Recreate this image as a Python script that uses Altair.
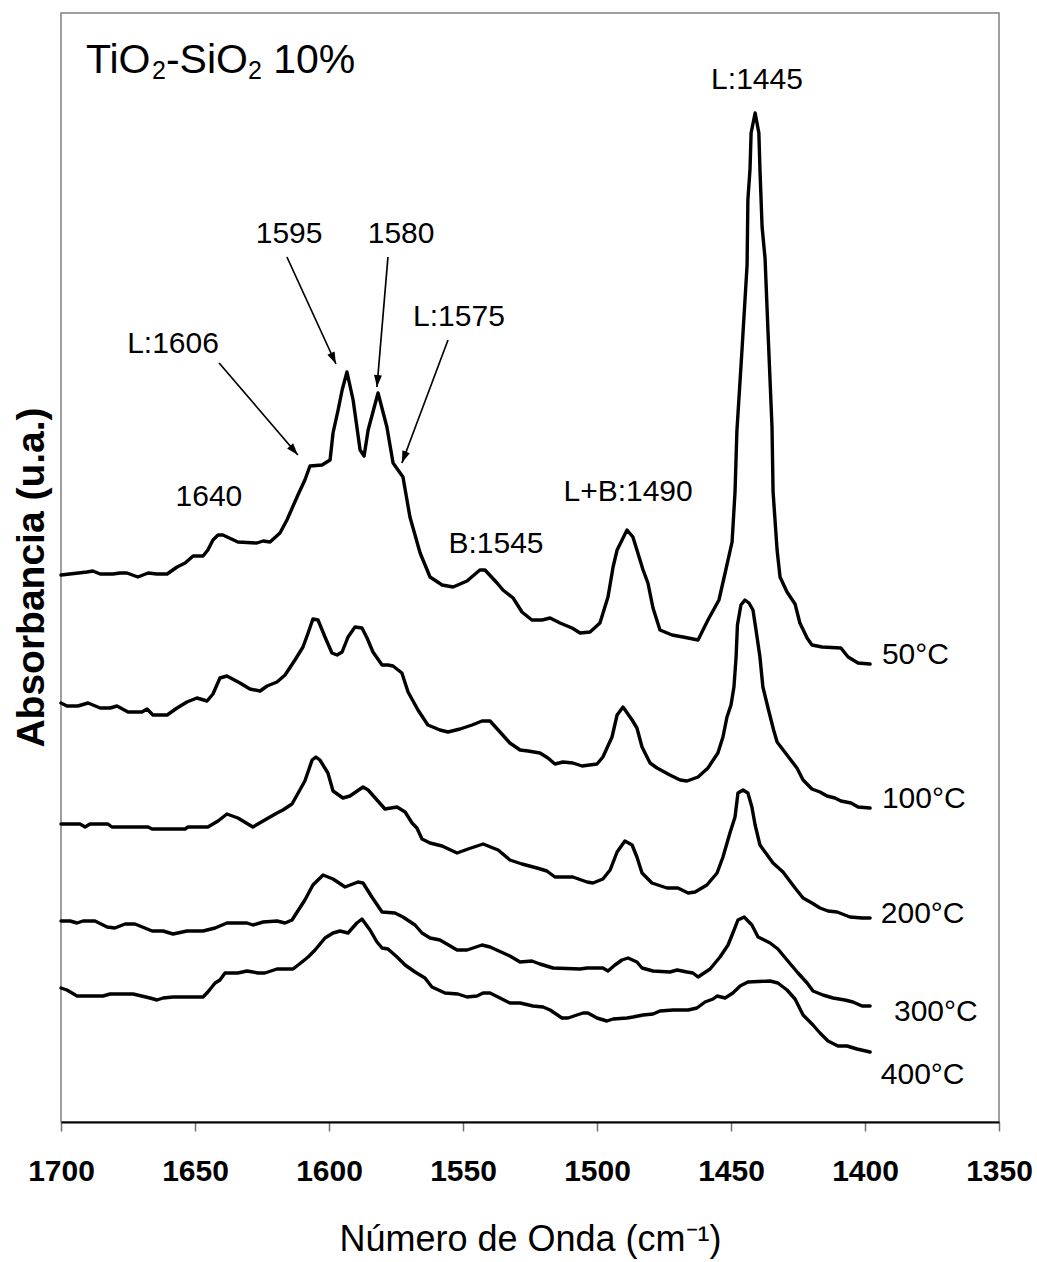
import math
import altair as alt
import pandas as pd

# FTIR spectra of adsorbed pyridine on TiO2-SiO2 10 %, (wavenumber cm-1, absorbance u.a.)
spec_50 = [
    (1700, .547), (1690.3, .550), (1688.1, .551), (1685.4, .548), (1680.6, .548), (1678, .549),
    (1675.4, .549), (1671.3, .545), (1667.5, .549), (1664.2, .548), (1660.4, .548), (1656.7, .555),
    (1653.7, .559), (1650.7, .566), (1647, .566), (1645.2, .572), (1643.3, .582), (1641.4, .587),
    (1639.6, .587), (1634, .580), (1626.9, .579), (1624.6, .581), (1622, .580), (1618.3, .589),
    (1615.7, .602), (1611.6, .627), (1609, .642), (1607.1, .656), (1602.6, .657), (1599.6, .662),
    (1598.5, .689), (1596.6, .712), (1595.1, .732), (1593.3, .750), (1591, .722), (1588.4, .672),
    (1586.9, .666), (1585.4, .692), (1581.7, .729), (1578.4, .695), (1576.1, .659), (1572.4, .645),
    (1569.8, .605), (1566, .569), (1562.3, .545), (1557.8, .537), (1553.7, .535), (1548.5, .541),
    (1543.7, .552), (1541.8, .552), (1537.3, .539), (1535.1, .532), (1531.3, .524), (1528, .510),
    (1524.3, .502), (1520.5, .502), (1517.5, .504), (1513.8, .499), (1509.3, .494), (1506.3, .489),
    (1502.6, .490), (1498.9, .499), (1495.9, .525), (1494, .555), (1492.5, .572), (1488.8, .592),
    (1486.6, .585), (1482.8, .552), (1481, .539), (1479.1, .514), (1476.5, .492), (1472, .487),
    (1467.9, .485), (1462.3, .482), (1458.6, .502), (1454.5, .522), (1452.2, .549), (1449.6, .580),
    (1448.5, .630), (1447.8, .691), (1445.9, .772), (1444, .857), (1443.7, .922), (1442.9, .953),
    (1442.5, .989), (1441, 1.009), (1439.6, .989), (1439.2, .953), (1438.4, .895), (1437.3, .864),
    (1436.2, .791), (1434.7, .695), (1434.3, .630), (1432.8, .572), (1431.7, .545), (1429.1, .530),
    (1426.1, .518), (1424.3, .499), (1421.6, .484), (1419.8, .477), (1416, .475), (1409, .474),
    (1406.3, .465), (1402.6, .459), (1398.1, .458),
]
spec_100 = [
    (1700, .419), (1697.8, .416), (1693.7, .416), (1689.9, .419), (1685.4, .414), (1681.7, .414),
    (1679.1, .416), (1675, .410), (1669.8, .410), (1667.9, .413), (1665.7, .407), (1660.4, .407),
    (1656.7, .414), (1653, .420), (1649.3, .424), (1645.5, .421), (1643.3, .428), (1640.7, .444),
    (1638.1, .446), (1633.2, .439), (1629.5, .433), (1625.7, .431), (1623.1, .436), (1619.4, .440),
    (1616.4, .447), (1612.7, .462), (1609.7, .475), (1607.8, .489), (1606, .503), (1604.1, .502),
    (1601.5, .485), (1598.9, .469), (1597, .467), (1595.1, .470), (1592.9, .485), (1590.3, .495),
    (1587.7, .494), (1585.8, .484), (1583.6, .470), (1580.2, .457), (1578, .457), (1576.1, .456),
    (1572.8, .449), (1570.5, .430), (1566.8, .412), (1563.1, .397), (1558.6, .392), (1555.6, .390),
    (1551.1, .393), (1546.6, .397), (1542.9, .401), (1539.9, .401), (1536.2, .390), (1532.5, .379),
    (1528.7, .372), (1525.7, .371), (1521.3, .369), (1518.3, .364), (1515.7, .358), (1512.7, .360),
    (1509, .359), (1505.6, .356), (1500, .358), (1497.8, .365), (1494.4, .385), (1492.5, .407),
    (1490.3, .415), (1486.9, .402), (1485.1, .394), (1483.2, .375), (1480.2, .359), (1477.6, .354),
    (1472.8, .347), (1469, .342), (1466.4, .341), (1462.3, .345), (1458.6, .354), (1454.9, .369),
    (1453, .385), (1451.5, .405), (1450, .417), (1448.9, .435), (1448.1, .465), (1447.6, .497),
    (1446.3, .517), (1444.8, .522), (1443.3, .519), (1441.8, .512), (1440.5, .489), (1439.2, .465),
    (1438.1, .435), (1436, .412), (1434.1, .392), (1432.8, .380), (1429.1, .367), (1425.4, .354),
    (1423.1, .342), (1419.8, .333), (1416.8, .330), (1414.2, .326), (1411.2, .324), (1409, .321),
    (1405.2, .319), (1402.6, .315), (1398.1, .314),
]
spec_200 = [
    (1700, .298), (1692.9, .298), (1691, .295), (1689.2, .298), (1682.5, .298), (1681, .295),
    (1667.5, .295), (1666, .293), (1653.7, .293), (1652.6, .295), (1645.2, .295), (1641.4, .301),
    (1638.1, .308), (1634, .304), (1628.4, .295), (1624.6, .301), (1619.4, .309), (1617.2, .312),
    (1613.8, .318), (1609, .341), (1606.3, .362), (1604.9, .365), (1603.4, .362), (1600.4, .349),
    (1598.5, .331), (1594.8, .324), (1592.2, .326), (1587.3, .335), (1585.4, .332), (1582.1, .322),
    (1579.1, .313), (1574.6, .315), (1571.6, .310), (1569, .299), (1567.2, .294), (1565.3, .283),
    (1562.3, .279), (1557.8, .276), (1552.2, .269), (1548.1, .273), (1542.5, .278), (1536.9, .272),
    (1532.5, .262), (1528, .258), (1522.4, .254), (1518.7, .251), (1515.7, .245), (1509, .245),
    (1503.7, .240), (1501.5, .239), (1497.8, .243), (1495.1, .252), (1492.5, .270), (1489.6, .281),
    (1486.9, .277), (1485.1, .265), (1483.2, .249), (1479.5, .239), (1473.9, .234), (1469.8, .234),
    (1466, .229), (1463.4, .230), (1459, .237), (1455.2, .249), (1453, .265), (1450.4, .289),
    (1448.5, .305), (1447.4, .329), (1445.5, .332), (1443.7, .329), (1442.2, .315), (1441, .297),
    (1439.2, .277), (1434.3, .259), (1430.6, .250), (1426.1, .234), (1423.1, .224), (1419.8, .219),
    (1416.8, .214), (1413.8, .211), (1410.4, .210), (1405.6, .205), (1401.1, .204), (1398.1, .204),
]
spec_300 = [
    (1700, .201), (1696.6, .201), (1694, .199), (1691.8, .201), (1687.3, .201), (1682.8, .195),
    (1679.9, .194), (1676.1, .198), (1672.4, .198), (1666, .191), (1661.9, .191), (1658.2, .188),
    (1653, .191), (1647, .191), (1642.5, .194), (1638.1, .199), (1630.6, .199), (1628.4, .197),
    (1624.6, .200), (1619.4, .201), (1616.4, .199), (1613.8, .202), (1609, .222), (1606, .237),
    (1602.2, .247), (1598.5, .243), (1594, .235), (1589.2, .240), (1587.3, .239), (1584, .225),
    (1580.2, .210), (1575.4, .209), (1572.4, .205), (1567.9, .197), (1565.3, .189), (1562.3, .184),
    (1558.6, .182), (1552.2, .172), (1548.5, .172), (1542.9, .177), (1539.9, .175), (1532.5, .166),
    (1528.7, .160), (1524.3, .161), (1521.3, .158), (1516.4, .154), (1506.3, .153), (1503.7, .154),
    (1497.8, .154), (1495.9, .151), (1493.3, .157), (1490.7, .162), (1488.4, .164), (1485.1, .160),
    (1483.2, .154), (1479.1, .151), (1472.8, .150), (1470.1, .152), (1466.4, .150), (1464.2, .149),
    (1462.3, .145), (1457.8, .153), (1454.1, .165), (1451.1, .177), (1449.3, .189), (1447.4, .202),
    (1445.1, .205), (1442.2, .197), (1439.9, .185), (1435.4, .179), (1432.5, .173), (1429.1, .162),
    (1425, .149), (1421.6, .139), (1419.4, .131), (1415.7, .127), (1411.9, .124), (1407.5, .122),
    (1404.5, .120), (1401.1, .116), (1398.1, .116),
]
spec_400 = [
    (1700, .134), (1697.8, .132), (1694, .126), (1684.3, .126), (1681.7, .128), (1673.1, .128),
    (1666.8, .124), (1664.2, .122), (1661.9, .124), (1658.2, .125), (1647, .125), (1645.2, .130),
    (1642.5, .139), (1640.7, .142), (1638.8, .149), (1634, .149), (1630.6, .151), (1628.4, .150),
    (1626.5, .149), (1623.9, .149), (1619.4, .153), (1613.4, .153), (1610.1, .160), (1607.8, .165),
    (1605.2, .172), (1601.5, .184), (1598.5, .189), (1595.9, .191), (1592.9, .189), (1589.6, .199),
    (1587.7, .203), (1584.7, .192), (1582.1, .180), (1580.2, .174), (1578, .173), (1574.6, .165),
    (1571.6, .157), (1567.9, .150), (1564.2, .144), (1561.6, .135), (1556.7, .129), (1551.9, .128),
    (1548.5, .125), (1544.8, .126), (1542.5, .129), (1539.9, .129), (1536.2, .124), (1532.5, .119),
    (1528.7, .119), (1523.9, .116), (1520.1, .115), (1517.5, .112), (1513.1, .104), (1510.8, .104),
    (1507.5, .107), (1505.2, .109), (1503.4, .109), (1500, .104), (1496.3, .101), (1494, .103),
    (1488.8, .104), (1486.6, .105), (1482.8, .107), (1479.1, .108), (1476.5, .111), (1471.6, .112),
    (1466, .112), (1462.7, .114), (1459.7, .120), (1456.7, .123), (1455.2, .126), (1452.2, .124),
    (1449.3, .129), (1446.6, .136), (1443.7, .140), (1435.4, .141), (1432.5, .139), (1429.1, .132),
    (1426.1, .123), (1423.1, .107), (1419.4, .097), (1416.8, .089), (1413.8, .081), (1410.1, .076),
    (1406.7, .076), (1403, .073), (1398.1, .070),
]

temperatures = ["50°C", "100°C", "200°C", "300°C", "400°C"]
spectra = [spec_50, spec_100, spec_200, spec_300, spec_400]

# temperature labels at the end of each curve
temp_label_wn = [1393.7, 1393.7, 1394.1, 1389.2, 1394.1]
temp_label_abs = [0.467, 0.323, 0.208, 0.110, 0.047]

# band assignments (L = Lewis, B = Bronsted)
band_text = ["L:1606", "1595", "1580", "L:1575", "1640", "B:1545", "L+B:1490", "L:1445"]
band_wn = [1658.2, 1614.9, 1573.1, 1551.5, 1644.8, 1537.7, 1488.4, 1440.3]
band_abs = [0.778, 0.888, 0.888, 0.805, 0.625, 0.578, 0.630, 1.042]

# arrows from band labels to the 50 °C spectrum
arrow_wn_from = [1641.0, 1615.7, 1578.0, 1555.6]
arrow_abs_from = [0.759, 0.865, 0.865, 0.782]
arrow_wn_to = [1611.6, 1597.4, 1582.1, 1572.8]
arrow_abs_to = [0.667, 0.758, 0.735, 0.659]

# sample name, drawn with subscripts
sample_parts = ["TiO", "2", "-SiO", "2", "10%"]
sample_wn = 1690.7
sample_abs = 1.049

WN_LO, WN_HI = 1350, 1700
ABS_MAX = 1.109
W, H = 938, 1109
FONT = "Liberation Sans"

rows = []
for name, spec in zip(temperatures, spectra):
    for i, (wn, a) in enumerate(spec):
        rows.append({"serie": name, "i": i, "wn": wn, "a": a})
spec_df = pd.DataFrame(rows)

x_scale = alt.Scale(domain=[WN_LO, WN_HI], reverse=True, nice=False, zero=False)
y_scale = alt.Scale(domain=[0, ABS_MAX], nice=False, zero=False)

x_axis = alt.Axis(
    values=[1700, 1650, 1600, 1550, 1500, 1450, 1400, 1350], format="d",
    title="Número de Onda (cm⁻¹)", titleFont=FONT, titleFontSize=36,
    titleFontWeight="normal", titleColor="black", titleY=128,
    titleBaseline="alphabetic",
    labelFont=FONT, labelFontSize=30, labelFontWeight="bold", labelColor="black",
    labelPadding=25, tickSize=9, tickColor="#707070", tickWidth=1.5,
    domainColor="black", domainWidth=2, grid=False, labelFlush=False,
)
y_axis = alt.Axis(
    title="Absorbancia (u.a.)", titleFont=FONT, titleFontSize=39,
    titleFontWeight="bold", titleColor="black", titleX=-18, titleY=564,
    titleBaseline="alphabetic", titleAlign="center", titleAngle=270,
    labels=False, ticks=False, domain=False, grid=False,
)

X = alt.X("wn:Q", scale=x_scale, axis=x_axis)
Y = alt.Y("a:Q", scale=y_scale, axis=y_axis)

lines = alt.Chart(spec_df).mark_line(
    color="black", strokeWidth=3.4, strokeJoin="round", strokeCap="round"
).encode(x=X, y=Y, detail="serie:N", order="i:Q")

# arrow shafts and heads
px_wn = W / (WN_HI - WN_LO)
px_abs = H / ABS_MAX
angles = []
for wf, af, wt, at in zip(arrow_wn_from, arrow_abs_from, arrow_wn_to, arrow_abs_to):
    dx = -(wt - wf) * px_wn
    dy = -(at - af) * px_abs
    angles.append(math.degrees(math.atan2(dx, -dy)) % 360)

arrow_df = pd.DataFrame({
    "wn": arrow_wn_from, "a": arrow_abs_from,
    "wn2": arrow_wn_to, "a2": arrow_abs_to,
})
head_df = pd.DataFrame({"wn": arrow_wn_to, "a": arrow_abs_to, "ang": angles})

shafts = alt.Chart(arrow_df).mark_rule(color="black", strokeWidth=1.7).encode(
    x=X, y=Y, x2="wn2:Q", y2="a2:Q"
)
heads = alt.Chart(head_df).mark_point(
    shape="M0,0L-0.33,1L0.33,1Z", filled=True, color="black",
    size=576, opacity=1, strokeWidth=0,
).encode(x=X, y=Y, angle=alt.Angle("ang:Q", scale=None))

band_df = pd.DataFrame({"wn": band_wn, "a": band_abs, "t": band_text})
bands = alt.Chart(band_df).mark_text(
    font=FONT, fontSize=30, color="black", align="center", baseline="middle"
).encode(x=X, y=Y, text="t:N")

temp_df = pd.DataFrame({"wn": temp_label_wn, "a": temp_label_abs, "t": temperatures})
temps = alt.Chart(temp_df).mark_text(
    font=FONT, fontSize=30, color="black", align="left", baseline="middle"
).encode(x=X, y=Y, text="t:N")

# sample name: main text at 41 px, subscripts at 25 px shifted down
part_size = [41, 25, 41, 25, 41]
part_shift = [0, 6, 0, 6, 0]
glyph_w = {"T": .611, "i": .222, "O": .778, "2": .556, "-": .333, "S": .667}
offsets = [0]
for txt, fs in zip(sample_parts[:-1], part_size[:-1]):
    offsets.append(offsets[-1] + sum(glyph_w[c] for c in txt) * fs)
offsets[-1] += 0.278 * 41  # word space before the percentage

sample_layers = []
for txt, fs, sh, off in zip(sample_parts, part_size, part_shift, offsets):
    df = pd.DataFrame({"wn": [sample_wn], "a": [sample_abs], "t": [txt]})
    sample_layers.append(
        alt.Chart(df).mark_text(
            font=FONT, fontSize=fs, color="black", align="left",
            baseline="alphabetic", dx=off, dy=sh,
        ).encode(x=X, y=Y, text="t:N")
    )

chart = alt.layer(lines, shafts, heads, bands, temps, *sample_layers).properties(
    width=W, height=H,
    autosize=alt.AutoSizeParams(type="none"),
    padding={"left": 61, "top": 13, "right": 38, "bottom": 140},
    background="white",
).configure_view(stroke="#808080", strokeWidth=1.5)

chart.save("out.html", embed_options={"renderer": "svg", "actions": False})
